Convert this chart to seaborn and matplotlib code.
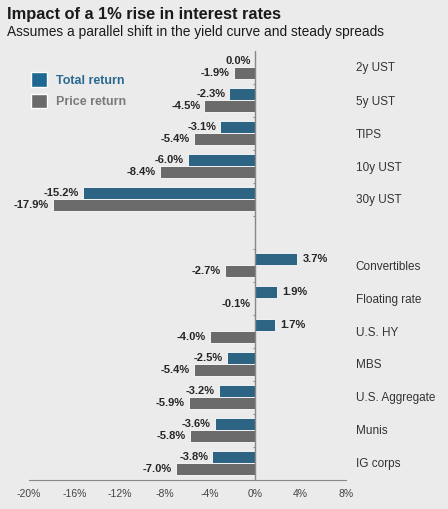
import numpy as np
import pandas as pd
import seaborn as sns
import matplotlib.pyplot as plt
from matplotlib.patches import Patch

# data
categories = ["2y UST", "5y UST", "TIPS", "10y UST", "30y UST", " ",
              "Convertibles", "Floating rate", "U.S. HY", "MBS",
              "U.S. Aggregate", "Munis", "IG corps"]
sectors = ["2y UST", "5y UST", "TIPS", "10y UST", "30y UST",
           "Convertibles", "Floating rate", "U.S. HY", "MBS",
           "U.S. Aggregate", "Munis", "IG corps"]
total_return = [0.0, -2.3, -3.1, -6.0, -15.2, 3.7, 1.9, 1.7, -2.5, -3.2, -3.6, -3.8]
price_return = [-1.9, -4.5, -5.4, -8.4, -17.9, -2.7, -0.1, -4.0, -5.4, -5.9, -5.8, -7.0]
series = ["Total return", "Price return"]
xticks = [-20, -16, -12, -8, -4, 0, 4, 8]

blue = "#1f6892"
grey = "#6b6b6b"
bg = "#ebebeb"

df = pd.DataFrame({
    "sector": sectors * 2,
    "value": total_return + price_return,
    "series": [series[0]] * len(sectors) + [series[1]] * len(sectors),
})

sns.set_style("white", {"axes.facecolor": bg, "figure.facecolor": bg})
plt.rcParams["font.family"] = ["Liberation Sans", "DejaVu Sans"]

fig = plt.figure(figsize=(4.48, 5.09), dpi=100)
ax = fig.add_axes([29 / 448, 1 - 479.5 / 509, 317 / 448, 429 / 509])

sns.barplot(data=df, x="value", y="sector", hue="series", order=categories,
            hue_order=series, palette=[blue, grey], orient="h", width=0.7,
            errorbar=None, edgecolor="white", linewidth=0.6, legend=False, ax=ax)

# value labels
for cont in ax.containers:
    for bar in cont:
        v = bar.get_width()
        if np.isnan(v):
            continue
        y = bar.get_y() + bar.get_height() / 2
        if v > 0:
            ax.annotate(f"{v:.1f}%", (v, y), xytext=(4, 0), textcoords="offset points",
                        ha="left", va="center", fontsize=8, fontweight="bold")
        else:
            ax.annotate(f"{v:.1f}%", (v, y), xytext=(-3, 0), textcoords="offset points",
                        ha="right", va="center", fontsize=8, fontweight="bold")

ax.set_xlim(-20, 8)
ax.set_ylim(len(categories) - 0.5, -0.5)
ax.set_xticks(xticks)
ax.set_xticklabels([f"{t}%" for t in xticks])
ax.set_xlabel("")
ax.set_ylabel("")

# zero line with small separators
ax.axvline(0, color="#888888", lw=1)
ax.hlines(np.arange(len(categories) - 1) + 0.5, -0.25, 0, color="#888888", lw=0.8)

for s in ["top", "right", "left"]:
    ax.spines[s].set_visible(False)
ax.spines["bottom"].set_color("#888888")
ax.tick_params(axis="x", direction="in", length=3, color="#888888",
               labelsize=7.5, labelcolor="#444444", pad=7)
ax.yaxis.tick_right()
ax.tick_params(axis="y", length=0, pad=7, labelsize=8.5, labelcolor="#333333")

# legend
handles = [Patch(facecolor=blue), Patch(facecolor=grey)]
leg = ax.legend(handles, series, loc="upper left", bbox_to_anchor=(-0.03, 0.975),
                frameon=False, handlelength=1.3, handleheight=1.4, handletextpad=0.7,
                labelspacing=0.55, prop={"size": 9, "weight": "bold"})
leg.get_texts()[0].set_color("#2a6a90")
leg.get_texts()[1].set_color("#7a7a7a")

fig.text(7 / 448, 1 - 14 / 509, "Impact of a 1% rise in interest rates",
         fontsize=11.8, fontweight="bold", va="center", color="#1a1a1a")
fig.text(7 / 448, 1 - 32 / 509, "Assumes a parallel shift in the yield curve and steady spreads",
         fontsize=9.9, va="center", color="#1a1a1a")

fig.savefig("out.png", dpi=100, facecolor=bg)
